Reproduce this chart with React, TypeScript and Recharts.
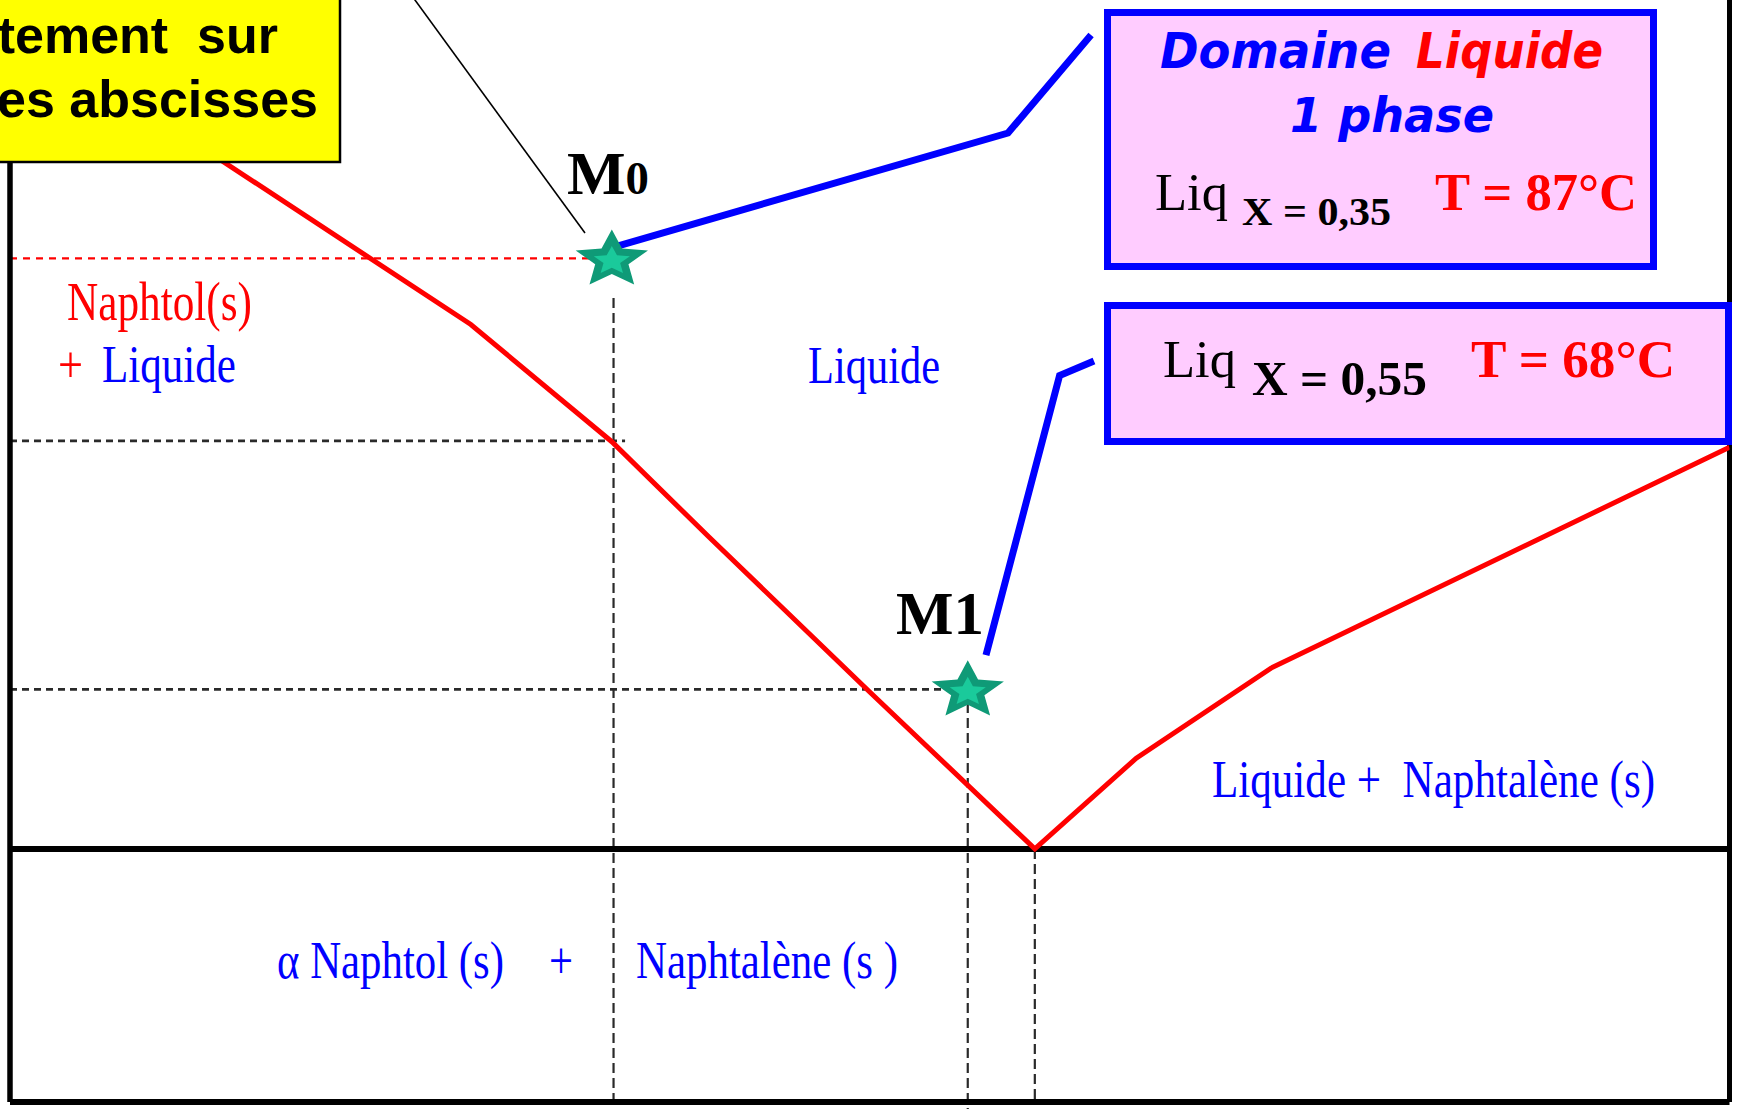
import React from 'react';
import { ComposedChart, Line, Scatter, XAxis, YAxis, ReferenceLine } from 'recharts';

// ---- data (x = mole fraction, t = temperature °C) ----
const liquidusX = [0, 0.268, 0.35, 0.4065, 0.5, 0.596, 0.655, 0.7334, 1.0];
const liquidusT = [97.4, 84.1, 78.96, 74.78, 67.98, 61.1, 65.08, 69.03, 78.72];

const pointX = [0.35, 0.557];
const pointT = [87, 68.1];
const pointNames = ['M0', 'M1'];

const calloutM0X = [0.3472, 0.5804, 0.6287];
const calloutM0T = [87.41, 92.5, 96.8];
const calloutM1X = [0.5676, 0.6104, 0.6304];
const calloutM1T = [69.6, 81.86, 82.5];

const pointerX = [0.2194, 0.3344];
const pointerT = [100, 88.11];

const eutecticX = 0.596;
const eutecticT = 61.1;
const crystT = 79; // start of crystallisation for M0
const tMin = 50;
const tMax = 100;

const zip = (xs: number[], ts: number[]) => xs.map((x, i) => ({ x, t: ts[i] }));
const liquidus = zip(liquidusX, liquidusT);
const points = pointX.map((x, i) => ({ x, t: pointT[i], name: pointNames[i] }));
const calloutM0 = zip(calloutM0X, calloutM0T);
const calloutM1 = zip(calloutM1X, calloutM1T);
const pointer = zip(pointerX, pointerT);

const serif = "'Liberation Serif', 'Times New Roman', serif";
const sans = "'Liberation Sans', Arial, sans-serif";
const comic = "'Comic Sans MS', 'DejaVu Sans', sans-serif";
const BLUE = '#0000ff';
const RED = '#ff0000';

function starPath(cx: number, cy: number, rx: number, ry: number, inner: number) {
  let d = '';
  for (let i = 0; i < 10; i++) {
    const r = i % 2 === 0 ? 1 : inner;
    const a = -Math.PI / 2 + (i * Math.PI) / 5;
    const x = cx + rx * r * Math.cos(a);
    const y = cy + ry * r * Math.sin(a);
    d += (i === 0 ? 'M' : 'L') + x.toFixed(2) + ',' + y.toFixed(2);
  }
  return d + 'Z';
}

const StarShape = (props: any) => {
  const { cx, cy } = props;
  if (cx == null || cy == null) return null;
  const c = cy + 1.5;
  return (
    <g>
      <path d={starPath(cx, c, 38, 30.5, 0.46)} fill="#0f9a77" />
      <path d={starPath(cx, c + 1, 19, 15, 0.46)} fill="#1ccf9e" opacity={0.9} />
    </g>
  );
};

const T = (p: any) => {
  const { x, y, len, size, fill = '#000', family = serif, weight = 'normal', style = 'normal', anchor, children } = p;
  return (
    <text
      x={x}
      y={y}
      fontSize={size}
      fill={fill}
      fontFamily={family}
      fontWeight={weight}
      fontStyle={style}
      textAnchor={anchor}
      textLength={len}
      lengthAdjust={len ? 'spacingAndGlyphs' : undefined}
      style={{ whiteSpace: 'pre' }}
    >
      {children}
    </text>
  );
};

const Overlay = () => (
  <svg
    width={1737}
    height={1109}
    style={{ position: 'absolute', left: 0, top: 0, pointerEvents: 'none' }}
  >
    {/* yellow note box */}
    <rect x={-3} y={-3} width={343} height={165} fill="#ffff00" stroke="#000" strokeWidth={2.5} />
    <T x={278} y={53} size={52} family={sans} weight="bold" anchor="end">tement  sur</T>
    <T x={318} y={117} size={52} family={sans} weight="bold" anchor="end">es abscisses</T>

    {/* box 1 */}
    <rect x={1107.5} y={12.5} width={546} height={254} fill="#ffccff" stroke={BLUE} strokeWidth={7} />
    <T x={1160} y={68} size={49} family={comic} weight="bold" style="italic" fill={BLUE} len={231}>Domaine</T>
    <T x={1416} y={68} size={49} family={comic} weight="bold" style="italic" fill={RED} len={187}>Liquide</T>
    <T x={1290} y={132} size={48} family={comic} weight="bold" style="italic" fill={BLUE} len={204}>1 phase</T>
    <T x={1155} y={210} size={53} len={73}>Liq</T>
    <T x={1242} y={225} size={40} weight="bold" len={149}>X = 0,35</T>
    <T x={1435} y={210} size={53} weight="bold" fill={RED} len={202}>T = 87°C</T>

    {/* box 2 */}
    <rect x={1107.5} y={305.5} width={621} height={136} fill="#ffccff" stroke={BLUE} strokeWidth={7} />
    <T x={1163} y={377} size={53} len={73}>Liq</T>
    <T x={1252} y={395} size={48} weight="bold" len={175}>X = 0,55</T>
    <T x={1471} y={377} size={53} weight="bold" fill={RED} len={204}>T = 68°C</T>

    {/* region labels */}
    <T x={67} y={320} size={54} fill={RED} len={185}>Naphtol(s)</T>
    <T x={58} y={382} size={52} fill={RED} len={25}>+</T>
    <T x={102} y={382} size={52} fill={BLUE} len={134}>Liquide</T>
    <T x={808} y={383} size={52} fill={BLUE} len={132}>Liquide</T>
    <T x={1212} y={797} size={52} fill={BLUE} len={443}>Liquide +  Naphtalène (s)</T>
    <T x={277} y={978} size={52} fill={BLUE} len={227}>α Naphtol (s)</T>
    <T x={549} y={978} size={52} fill={BLUE} len={24}>+</T>
    <T x={636} y={978} size={52} fill={BLUE} len={262}>Naphtalène (s )</T>

    {/* point names */}
    <text x={567} y={194} fontFamily={serif} fontWeight="bold" textLength={82} lengthAdjust="spacingAndGlyphs">
      <tspan fontSize={61}>M</tspan>
      <tspan fontSize={46}>0</tspan>
    </text>
    <T x={896} y={634} size={62} weight="bold" len={88}>{pointNames[1]}</T>
  </svg>
);

export default function App() {
  return (
    <div
      style={{
        position: 'absolute',
        left: 0,
        top: 0,
        width: 1737,
        height: 1109,
        overflow: 'hidden',
        background: '#fff',
      }}
    >
      <div style={{ position: 'absolute', left: 0, top: -38 }}>
        <ComposedChart
          width={1737}
          height={1150}
          margin={{ top: 0, right: 7.5, bottom: 10, left: 10 }}
        >
          <XAxis type="number" dataKey="x" domain={[0, 1]} hide allowDataOverflow />
          <YAxis type="number" dataKey="t" domain={[tMin, tMax]} hide allowDataOverflow />

          {/* dashed construction lines */}
          <ReferenceLine
            segment={[{ x: 0, y: pointT[0] }, { x: 0.345, y: pointT[0] }]}
            stroke={RED}
            strokeWidth={2.2}
            strokeDasharray="7 6"
          />
          <ReferenceLine
            segment={[{ x: 0, y: crystT }, { x: 0.3577, y: crystT }]}
            stroke="#2a2a2a"
            strokeWidth={2.8}
            strokeDasharray="7 5"
          />
          <ReferenceLine
            segment={[{ x: 0, y: pointT[1] }, { x: 0.547, y: pointT[1] }]}
            stroke="#2a2a2a"
            strokeWidth={2.8}
            strokeDasharray="7 5"
          />
          <ReferenceLine
            segment={[{ x: 0.351, y: 85.26 }, { x: 0.351, y: tMin }]}
            stroke="#2a2a2a"
            strokeWidth={2.2}
            strokeDasharray="10 5"
          />
          <ReferenceLine
            segment={[{ x: pointX[1], y: 67.5 }, { x: pointX[1], y: 49.6 }]}
            stroke="#2a2a2a"
            strokeWidth={2.2}
            strokeDasharray="10 5"
            ifOverflow="visible"
          />
          <ReferenceLine
            segment={[{ x: eutecticX, y: eutecticT }, { x: eutecticX, y: tMin }]}
            stroke="#2a2a2a"
            strokeWidth={2.2}
            strokeDasharray="10 5"
          />

          {/* frame and eutectic line */}
          <ReferenceLine x={0} stroke="#000" strokeWidth={5.5} />
          <ReferenceLine x={1} stroke="#000" strokeWidth={5} />
          <ReferenceLine y={tMin} stroke="#000" strokeWidth={6} />
          <ReferenceLine y={eutecticT} stroke="#000" strokeWidth={6} />

          <Line
            data={pointer}
            dataKey="t"
            type="linear"
            stroke="#000"
            strokeWidth={1.6}
            dot={false}
            activeDot={false}
            isAnimationActive={false}
          />
          <Line
            data={liquidus}
            dataKey="t"
            type="linear"
            stroke={RED}
            strokeWidth={5}
            dot={false}
            activeDot={false}
            isAnimationActive={false}
          />
          <Line
            data={calloutM0}
            dataKey="t"
            type="linear"
            stroke={BLUE}
            strokeWidth={7}
            dot={false}
            activeDot={false}
            isAnimationActive={false}
          />
          <Line
            data={calloutM1}
            dataKey="t"
            type="linear"
            stroke={BLUE}
            strokeWidth={7}
            dot={false}
            activeDot={false}
            isAnimationActive={false}
          />
          <Scatter data={points} dataKey="t" shape={StarShape} isAnimationActive={false} />
        </ComposedChart>
      </div>
      <Overlay />
    </div>
  );
}
